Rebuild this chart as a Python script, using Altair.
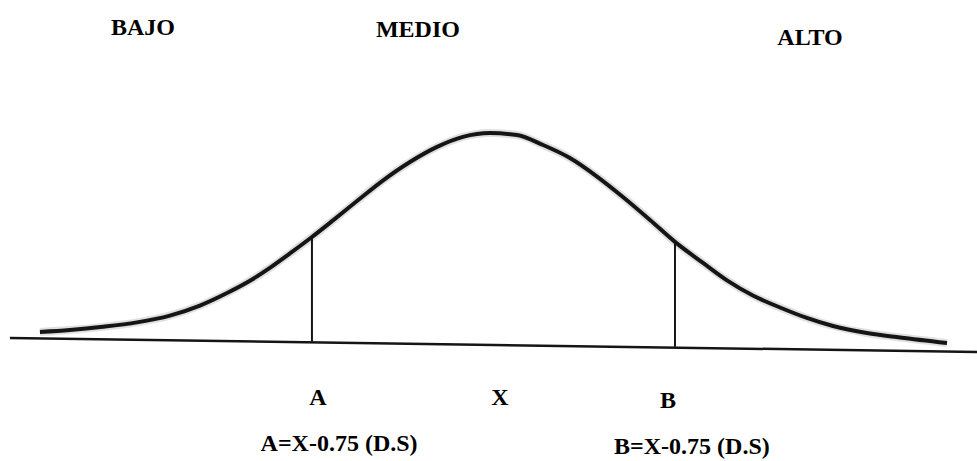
import altair as alt
import pandas as pd

# Normal curve, drawn in standard-deviation units (x) against relative height (y)
curve_x = [-1.874, -1.750, -1.614, -1.473, -1.337, -1.213, -1.101, -0.994,
           -0.924, -0.841, -0.750, -0.663, -0.564, -0.457, -0.345, -0.233,
           -0.126, -0.014, 0.097, 0.205, 0.316, 0.428, 0.535, 0.647,
           0.750, 0.866, 0.965, 1.072, 1.184, 1.295, 1.403, 1.543,
           1.680, 1.874]
curve_y = [0.061, 0.070, 0.085, 0.106, 0.138, 0.185, 0.244, 0.310,
           0.362, 0.430, 0.507, 0.585, 0.676, 0.772, 0.859, 0.930,
           0.977, 0.995, 0.986, 0.939, 0.878, 0.791, 0.695, 0.587,
           0.484, 0.385, 0.303, 0.232, 0.176, 0.127, 0.089, 0.056,
           0.035, 0.009]

# Horizontal base line under the curve
base_x = [-1.998, 0.0, 1.998]
base_y = [0.033, 0.0, -0.033]

# Cut points A and B (X -/+ 0.75 D.S.)
cut_names = ["A", "B"]
cut_x = [-0.75, 0.75]
cut_bottom = [0.014, -0.009]
cut_top = [0.507, 0.484]

# Text labels
label_text = ["BAJO", "MEDIO", "ALTO", "A", "X", "B",
              "A=X-0.75 (D.S)", "B=X-0.75 (D.S)"]
label_x = [-1.448, -0.312, 1.308, -0.725, 0.027, 0.721, -0.638, 0.820]
label_y = [1.455, 1.446, 1.408, -0.282, -0.282, -0.296, -0.498, -0.512]

curve = pd.DataFrame({"x": curve_x, "y": curve_y, "o": range(len(curve_x))})
base = pd.DataFrame({"x": base_x, "y": base_y, "o": range(len(base_x))})
cuts = pd.DataFrame({"name": cut_names, "x": cut_x,
                     "y": cut_bottom, "y2": cut_top})
labels = pd.DataFrame({"text": label_text, "x": label_x, "y": label_y})

xs = alt.Scale(domain=[-2.039, 1.998], nice=False, zero=False)
ys = alt.Scale(domain=[-0.545, 1.620], nice=False, zero=False)
X = alt.X("x:Q", scale=xs, axis=None)
Y = alt.Y("y:Q", scale=ys, axis=None)

ink = "#151515"

halo = alt.Chart(curve).mark_line(
    color="#555555", strokeWidth=8, opacity=0.18, interpolate="monotone"
).encode(x=X, y=Y, order="o:Q")

line = alt.Chart(curve).mark_line(
    color=ink, strokeWidth=4, interpolate="monotone"
).encode(x=X, y=Y, order="o:Q")

baseline = alt.Chart(base).mark_line(
    color=ink, strokeWidth=2.5
).encode(x=X, y=Y, order="o:Q")

rules = alt.Chart(cuts).mark_rule(
    color=ink, strokeWidth=2
).encode(x=X, y=Y, y2="y2:Q")

text = alt.Chart(labels).mark_text(
    font="Liberation Serif", fontWeight="bold", fontSize=24,
    color="#000000", align="center", baseline="alphabetic"
).encode(x=X, y=Y, text="text:N")

chart = (
    alt.layer(baseline, halo, line, rules, text)
    .properties(width=977, height=461, padding=0, background="white",
                autosize=alt.AutoSizeParams(type="none"))
    .configure_view(stroke=None)
)

chart.save("out.html", embed_options={"renderer": "svg", "actions": False})
